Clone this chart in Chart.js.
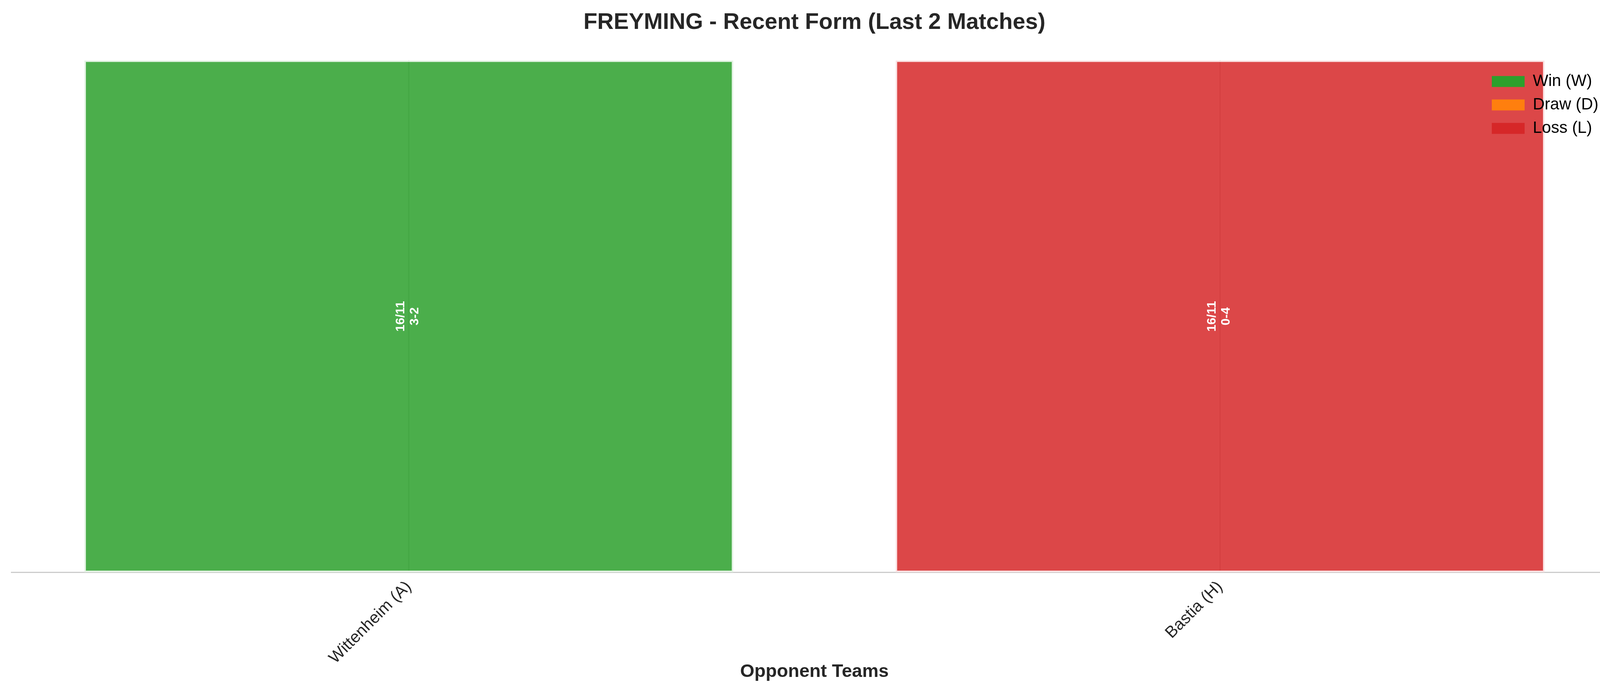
<!DOCTYPE html>
<html>
<head>
<meta charset="utf-8">
<title>FREYMING - Recent Form</title>
<script src="https://cdn.jsdelivr.net/npm/chart.js@4.4.1/dist/chart.umd.min.js"></script>
<style>
    html, body { margin: 0; padding: 0; background: #fff; overflow: hidden; }
    #wrap { width: 4170px; height: 1768px; }
</style>
</head>
<body>
<div id="wrap"><canvas id="formChart"></canvas></div>
<script>
// match data (one bar per match, full height)
const opponents = ['Wittenheim (A)', 'Bastia (H)'];
const matchDates = ['16/11', '16/11'];
const scores = ['3-2', '0-4'];
const results = ['W', 'L'];
const barHeights = [1, 1];

const legendResults = ['W', 'D', 'L'];
const legendLabels = ['Win (W)', 'Draw (D)', 'Loss (L)'];

const resultColors = {W: '#2ca02c', D: '#ff7f0e', L: '#d62728'};
const FONT = "'Liberation Sans', Arial, sans-serif";
const INK = '#262626';

// hex -> rgba string; fill is a bit see-through, the edge is a washed-out version of it
function withAlpha(hex, a) {
    const n = parseInt(hex.slice(1), 16);
    return `rgba(${n >> 16}, ${(n >> 8) & 255}, ${n & 255}, ${a})`;
}
function washed(hex) {
    const n = parseInt(hex.slice(1), 16);
    const mix = c => Math.round(255 * 0.85 + (c * 0.85 + 255 * 0.15) * 0.15);
    return `rgb(${mix(n >> 16)}, ${mix((n >> 8) & 255)}, ${mix(n & 255)})`;
}

// score labels inside the bars + legend drawn above the bars
const overlay = {
    id: 'overlay',
    afterLayout(chart) {
        const lg = chart.legend, area = chart.chartArea;
        lg.left = area.right - 340;
        lg.top = area.top + 15;
    },
    beforeDraw(chart) {
        chart.legend.options.display = false;
    },
    afterDatasetsDraw(chart) {
        const ctx = chart.ctx;
        const yMid = chart.scales.y.getPixelForValue(0.5);
        chart.getDatasetMeta(0).data.forEach((bar, i) => {
            ctx.save();
            ctx.translate(bar.x, yMid);
            ctx.rotate(-Math.PI / 2);
            ctx.font = `bold 32px ${FONT}`;
            ctx.fillStyle = '#ffffff';
            ctx.textAlign = 'center';
            ctx.textBaseline = 'middle';
            ctx.fillText(matchDates[i], 0, -20);
            ctx.fillText(scores[i], 0, 16);
            ctx.restore();
        });
        chart.legend.options.display = true;
        chart.legend.draw();
    }
};

new Chart(document.getElementById('formChart'), {
    type: 'bar',
    data: {
        datasets: [{
            data: barHeights.map((h, i) => ({x: i, y: h})),
            backgroundColor: results.map(r => withAlpha(resultColors[r], 0.85)),
            borderColor: results.map(r => washed(resultColors[r])),
            borderWidth: 4,
            borderSkipped: false,
            categoryPercentage: 1,
            barPercentage: 0.8
        }]
    },
    options: {
        responsive: true,
        maintainAspectRatio: false,
        devicePixelRatio: 1,
        animation: false,
        events: [],
        layout: {padding: {left: 29, right: 29, top: 0, bottom: 0}},
        scales: {
            x: {
                type: 'linear',
                min: -0.49,
                max: 1.49,
                offset: false,
                afterBuildTicks(scale) {
                    scale.ticks = opponents.map((_, i) => ({value: i}));
                },
                afterFit(scale) {
                    scale.height = 304;
                },
                ticks: {
                    callback: v => opponents[v],
                    autoSkip: false,
                    minRotation: 45,
                    maxRotation: 45,
                    padding: 13,
                    color: INK,
                    font: {family: FONT, size: 42}
                },
                grid: {offset: false, color: '#cccccc', lineWidth: 3, drawTicks: false},
                border: {display: true, color: '#cccccc', width: 3},
                title: {
                    display: true,
                    text: 'Opponent Teams',
                    color: INK,
                    font: {family: FONT, size: 47, weight: 'bold'},
                    padding: {top: 0, bottom: 21}
                }
            },
            y: {
                min: 0,
                max: 1,
                display: false
            }
        },
        plugins: {
            title: {
                display: true,
                text: 'FREYMING - Recent Form (Last 2 Matches)',
                color: INK,
                font: {family: FONT, size: 58, weight: 'bold'},
                padding: {top: 23, bottom: 62}
            },
            legend: {
                position: 'chartArea',
                align: 'start',
                onClick: null,
                labels: {
                    boxWidth: 84,
                    boxHeight: 28,
                    padding: 18,
                    color: INK,
                    font: {family: FONT, size: 42},
                    generateLabels: () => legendResults.map((r, i) => ({
                        text: legendLabels[i],
                        fillStyle: resultColors[r],
                        strokeStyle: resultColors[r],
                        lineWidth: 0,
                        hidden: false,
                        datasetIndex: 0
                    }))
                }
            },
            tooltip: {enabled: false}
        }
    },
    plugins: [overlay]
});
</script>
</body>
</html>
